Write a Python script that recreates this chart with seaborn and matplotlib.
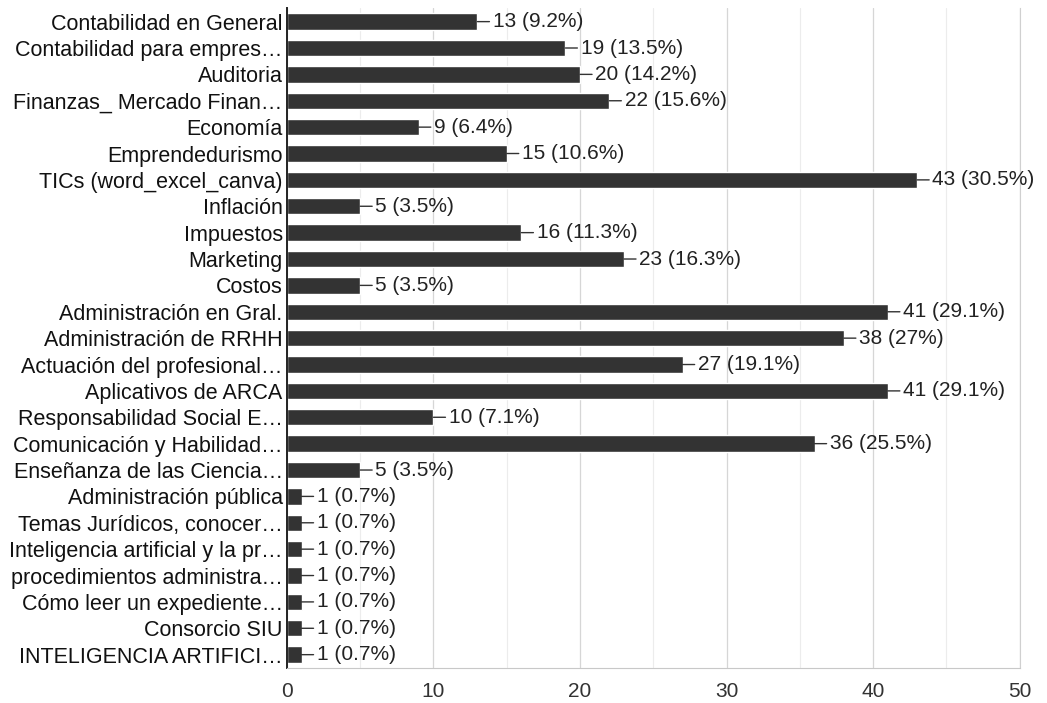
import matplotlib
matplotlib.use("Agg")
import matplotlib.pyplot as plt
import seaborn as sns
import pandas as pd
from matplotlib.ticker import MultipleLocator

temas = [
    "Contabilidad en General", "Contabilidad para empres…", "Auditoria",
    "Finanzas_ Mercado Finan…", "Economía", "Emprendedurismo",
    "TICs (word_excel_canva)", "Inflación", "Impuestos", "Marketing", "Costos",
    "Administración en Gral.", "Administración de RRHH", "Actuación del profesional…",
    "Aplicativos de ARCA", "Responsabilidad Social E…", "Comunicación y Habilidad…",
    "Enseñanza de las Ciencia…", "Administración pública", "Temas Jurídicos, conocer…",
    "Inteligencia artificial y la pr…", "procedimientos administra…",
    "Cómo leer un expediente…", "Consorcio SIU", "INTELIGENCIA ARTIFICI…",
]
respuestas = [13, 19, 20, 22, 9, 15, 43, 5, 16, 23, 5, 41, 38, 27, 41, 10, 36, 5,
              1, 1, 1, 1, 1, 1, 1]
porcentajes = ["9.2%", "13.5%", "14.2%", "15.6%", "6.4%", "10.6%", "30.5%", "3.5%",
               "11.3%", "16.3%", "3.5%", "29.1%", "27%", "19.1%", "29.1%", "7.1%",
               "25.5%", "3.5%", "0.7%", "0.7%", "0.7%", "0.7%", "0.7%", "0.7%", "0.7%"]

df = pd.DataFrame({"tema": temas, "n": respuestas, "pct": porcentajes})

sns.set_style("white")
plt.rcParams["font.family"] = ["Liberation Sans", "DejaVu Sans"]

fig = plt.figure(figsize=(10.47, 7.03), dpi=100)
ax = fig.add_axes([0.274, 0.05, 0.7, 0.938])

sns.barplot(data=df, x="n", y="tema", color="#333333", width=0.62,
            saturation=1, ax=ax)

ax.set_xlim(0, 50)
ax.xaxis.set_major_locator(MultipleLocator(10))
ax.xaxis.set_minor_locator(MultipleLocator(5))
ax.grid(axis="x", which="major", color="#d6d6d6", lw=0.9)
ax.grid(axis="x", which="minor", color="#ececec", lw=0.8)
ax.set_axisbelow(True)

ax.spines["top"].set_visible(False)
ax.spines["right"].set_color("#d0d0d0")
ax.spines["bottom"].set_color("#c8c8c8")
ax.spines["left"].set_color("#222222")
ax.spines["left"].set_linewidth(1.4)

ax.set_xlabel("")
ax.set_ylabel("")
ax.tick_params(axis="y", length=0, pad=3, labelsize=15.5, labelcolor="#111111")
ax.tick_params(axis="x", length=0, pad=10, labelsize=15, labelcolor="#333333")

for i, row in df.iterrows():
    ax.annotate(f"{row.n} ({row.pct})", xy=(row.n, i), xytext=(11, 0),
                textcoords="offset points", va="center", ha="left",
                fontsize=15, color="#222222",
                arrowprops=dict(arrowstyle="-", color="#333333", lw=1,
                                shrinkA=0, shrinkB=0))

fig.savefig("out.png", dpi=100)
